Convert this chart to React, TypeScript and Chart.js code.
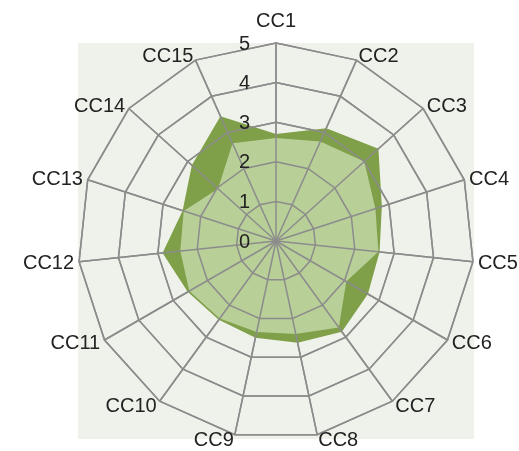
import React, { useEffect, useRef } from "react";
import { Chart, registerables } from "chart.js";

Chart.register(...registerables);

const categories = ["CC1","CC2","CC3","CC4","CC5","CC6","CC7","CC8","CC9","CC10","CC11","CC12","CC13","CC14","CC15"];
const innerSeries = [2.6, 2.75, 3.0, 2.64, 2.6, 2.05, 2.7, 2.4, 2.35, 2.42, 2.53, 2.43, 2.45, 1.97, 2.7];
const outerSeries = [2.7, 3.12, 3.48, 2.81, 2.63, 2.68, 2.83, 2.63, 2.5, 2.46, 2.57, 2.88, 2.48, 2.86, 3.45];
const tickValues = [0, 1, 2, 3, 4, 5];

const FONT = "'Liberation Sans', Arial, sans-serif";
const TEXT = "#222";

const plotBg = {
  id: "plotBg",
  beforeDraw(chart: any) {
    const s = chart.scales.r;
    const ctx = chart.ctx;
    ctx.save();
    ctx.fillStyle = "#eff2ea";
    const d = s.drawingArea;
    ctx.fillRect(s.xCenter - d, s.yCenter - d, 2 * d, 2 * d);
    ctx.restore();
  },
  afterDatasetsDraw(chart: any) {
    const s = chart.scales.r;
    const ctx = chart.ctx;
    s.drawGrid();
    ctx.save();
    ctx.fillStyle = TEXT;
    ctx.font = "20px " + FONT;
    ctx.textAlign = "right";
    ctx.textBaseline = "middle";
    tickValues.forEach((v) => {
      const r = s.getDistanceFromCenterForValue(v);
      ctx.fillText(String(v), s.xCenter - 26, s.yCenter - r + 1);
    });
    // category labels
    const n = categories.length;
    const rOuter = s.getDistanceFromCenterForValue(s.max);
    categories.forEach((lab, i) => {
      const p = s.getPointPosition(i, rOuter);
      const th = (i / n) * Math.PI * 2;
      const sn = Math.sin(th);
      const cs = Math.cos(th);
      if (Math.abs(sn) < 0.05) {
        ctx.textAlign = "center";
        ctx.textBaseline = "alphabetic";
        ctx.fillText(lab, p.x, p.y - 16);
        return;
      }
      ctx.textAlign = sn > 0 ? "left" : "right";
      ctx.textBaseline = "middle";
      ctx.fillText(lab, p.x + sn * 5, p.y - cs * 5 + 1);
    });
    ctx.restore();
  },
};

export default function App() {
  const ref = useRef<HTMLCanvasElement>(null);
  useEffect(() => {
    document.body.style.margin = "0";
    const chart = new Chart(ref.current!, {
      type: "radar",
      data: {
        labels: categories,
        datasets: [
          { label: "A", data: innerSeries, backgroundColor: "#b8cf97", borderWidth: 0, pointRadius: 0, fill: true },
          { label: "B", data: outerSeries, backgroundColor: "#7f9f48", borderWidth: 0, pointRadius: 0, fill: true },
        ],
      },
      options: {
        animation: false,
        responsive: false,
        maintainAspectRatio: false,
        layout: { padding: { left: 78, right: 45, top: 43, bottom: 11 } },
        plugins: { legend: { display: false }, tooltip: { enabled: false } },
        scales: {
          r: {
            min: 0,
            max: 5,
            ticks: { display: false, stepSize: 1 },
            grid: { circular: false, color: "#8c8c8c", lineWidth: 1.5 },
            angleLines: { color: "#8c8c8c", lineWidth: 1.5 },
            pointLabels: { display: false },
          },
        },
      },
      plugins: [plotBg],
    });
    return () => chart.destroy();
  }, []);
  return (
    <div style={{ width: 519, height: 451 }}>
      <canvas ref={ref} width={519} height={451} style={{ display: "block" }} />
    </div>
  );
}
